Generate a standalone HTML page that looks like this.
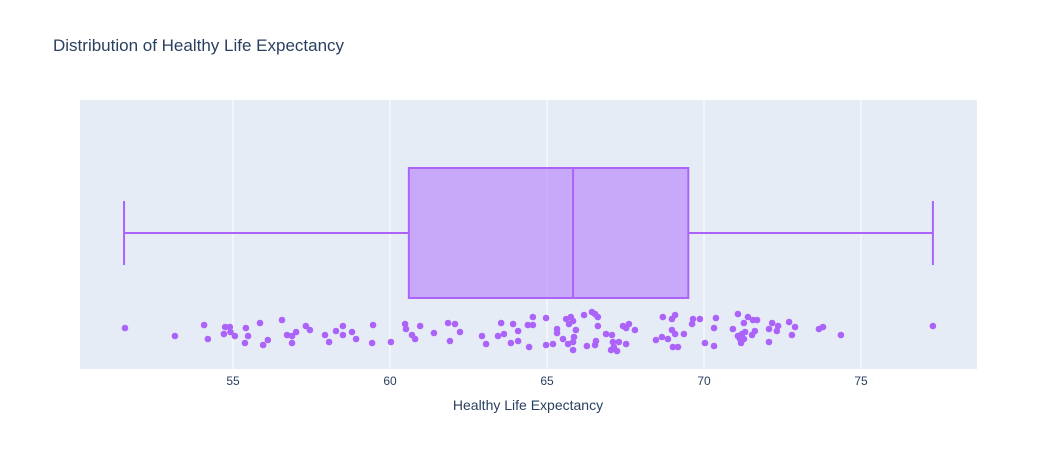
<!DOCTYPE html>
<html><head><meta charset="utf-8"><style>
body{margin:0;background:#fff;font-family:"Liberation Sans",Arial,sans-serif;}
svg text{font-family:"Liberation Sans",Arial,sans-serif;fill:#2a3f5f;}
</style></head><body>
<svg id="chart" width="1058" height="450" xmlns="http://www.w3.org/2000/svg">
<rect width="1058" height="450" fill="#fff"/>
<text x="53" y="51" font-size="17">Distribution of Healthy Life Expectancy</text>
<rect x="80" y="100" width="897" height="269" fill="#e5ecf6"/>
<g id="grid"></g><g id="box"></g><g id="pts"></g><g id="ticks"></g>
<text x="528" y="410" font-size="14" text-anchor="middle">Healthy Life Expectancy</text>
</svg>
<script>
const xTicks=[55,60,65,70,75];
const boxStats=[51.53,60.6,65.83,69.5,77.29]; // min,q1,median,q3,max
const values=[51.56,53.15,54.08,54.20,54.75,54.90,54.71,54.92,55.06,55.41,55.48,55.38,55.86,56.11,55.96,56.56,56.72,56.88,57.01,56.88,57.32,57.45,57.93,58.06,58.28,58.50,58.50,58.79,58.92,59.46,59.43,60.03,60.48,60.51,60.70,60.80,60.96,61.40,61.85,62.07,61.91,62.23,62.93,63.06,63.44,63.54,63.63,63.92,63.85,64.08,64.08,
64.39,64.55,64.55,64.43,64.97,64.97,65.19,65.32,65.32,65.51,65.61,65.76,65.83,65.70,65.92,65.86,65.67,65.83,65.83,66.18,66.43,66.53,66.62,66.62,66.27,66.53,66.56,66.88,67.07,67.10,67.29,67.13,67.04,67.23,67.52,67.42,67.61,67.52,67.80,68.47,68.66,68.85,68.69,69.08,68.98,68.98,69.08,69.36,69.01,69.17,69.62,69.65,69.87,70.38,70.32,70.03,70.32,70.92,71.08,71.27,71.40,71.56,71.69,71.08,71.21,71.31,71.15,71.27,71.18,71.53,71.62,72.07,72.17,72.32,72.36,72.07,72.71,72.90,72.80,73.66,73.79,74.36,77.29];
const jitter=[-3,5,-6,8,-4,-4,3,1,5,-3,5,12,-8,9,14,-11,4,5,1,12,-5,-1,4,11,0,-5,4,1,8,-6,12,11,-7,-2,4,8,-5,2,-8,-7,10,1,5,13,5,-8,3,-7,12,0,10,
-6,-6,-14,16,-13,14,13,-2,2,8,-12,-14,-10,-7,-1,6,13,11,19,-16,-19,-17,-14,-5,15,14,10,3,4,11,11,16,19,20,13,-5,-7,-3,-1,9,6,8,-14,-16,-12,-1,3,3,16,16,-7,-12,-12,-13,-3,12,15,-2,-17,-8,-14,-11,-11,5,3,1,8,8,12,4,0,-2,-8,0,-5,11,-9,-4,4,-2,-4,4,-5];
const NS="http://www.w3.org/2000/svg";
const xs=v=>233+(v-55)*31.4;
const jy=j=>331+j;
function mk(tag,attrs,parent){const e=document.createElementNS(NS,tag);for(const k in attrs)e.setAttribute(k,attrs[k]);document.getElementById(parent).appendChild(e);return e;}
xTicks.forEach(t=>{
  const l=mk('line',{x1:xs(t),x2:xs(t),y1:100,y2:369,stroke:'#fff','stroke-width':1},'grid');
  
  
  const tx=mk('text',{x:xs(t),y:385,'font-size':12,'text-anchor':'middle'},'ticks');
  tx.textContent=t;
  
  
});
const [mn,q1,md,q3,mx]=boxStats;
const c='#ab63fa';
let e;
e=mk('line',{x1:xs(mn),x2:xs(q1),y1:233,y2:233,stroke:c,'stroke-width':2},'box');


e=mk('line',{x1:xs(q3),x2:xs(mx),y1:233,y2:233,stroke:c,'stroke-width':2},'box');


e=mk('line',{x1:xs(mn),x2:xs(mn),y1:201,y2:265,stroke:c,'stroke-width':2},'box');


e=mk('line',{x1:xs(mx),x2:xs(mx),y1:201,y2:265,stroke:c,'stroke-width':2},'box');


e=mk('rect',{x:xs(q1),y:168,width:xs(q3)-xs(q1),height:130,fill:'rgba(171,99,250,0.5)',stroke:c,'stroke-width':2},'box');


e=mk('line',{x1:xs(md),x2:xs(md),y1:168,y2:298,stroke:c,'stroke-width':2},'box');


const n=Math.min(values.length,jitter.length);
for(let i=0;i<n;i++){
  const p=mk('circle',{cx:xs(values[i]),cy:jy(jitter[i]),r:3.3,fill:c},'pts');
  
  
}
</script>
</body></html>
